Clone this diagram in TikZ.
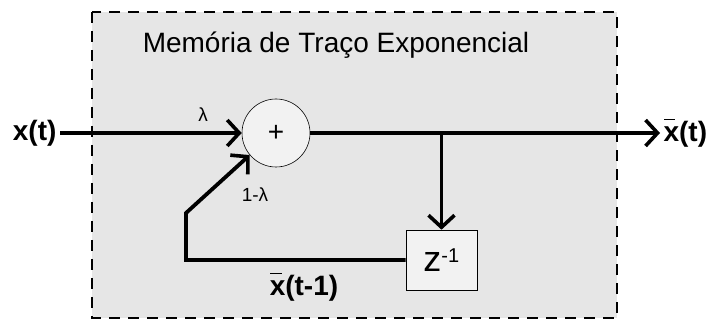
\documentclass[tikz,border=0pt]{standalone}
\usepackage{fontspec}
\setmainfont{Liberation Sans}
\usetikzlibrary{arrows.meta,positioning}
\definecolor{panelgray}{HTML}{E6E6E6}
\definecolor{blockgray}{HTML}{F2F2F2}
\newcommand{\xbar}{\rlap{\hspace{0.02em}\rule[0.78em]{0.4em}{1.3pt}}x}

\begin{document}
\begin{tikzpicture}[
  x=1pt, y=-1pt,
  sig/.style={-{Straight Barb[length=12pt,width=26pt,line width=3.6pt]}, line width=3.8pt, line join=miter},
  wire/.style={line width=3.8pt},
  panel/.style={draw=black, fill=panelgray, line width=2pt, dash pattern=on 11pt off 8pt},
  adder/.style={circle, draw=black, fill=blockgray, line width=0.6pt, minimum size=68pt, inner sep=0pt, font=\fontsize{28}{30}\selectfont},
  delay/.style={draw=black, fill=blockgray, line width=0.6pt, minimum width=71pt, minimum height=60pt, inner sep=0pt, font=\fontsize{36}{38}\selectfont},
  big/.style={font=\fontsize{28}{30}\selectfont\bfseries},
  small/.style={font=\fontsize{19}{21}\selectfont}
]
\useasboundingbox (0,0) rectangle (709,320);

\draw[panel] (92,12) rectangle (617,318);
\node[font=\fontsize{28}{32}\selectfont] (title) at (336,45) {Memória de Traço Exponencial};

\node[adder] (sum) at (276,133) {+};
\node[delay] (zinv) at (441.5,260) {z\textsuperscript{\fontsize{20}{20}\selectfont -1}};

\node[big, anchor=east] (xin) at (60,133) {x(t)};
\node[big, anchor=west] (xout) at (660,133) {\xbar(t)};
\node[small] (lam) at (203,115) {λ};
\node[small] (oneminus) at (255,195) {1-λ};
\node[big] (xprev) at (304,287) {\xbar(t-1)};

\coordinate (split) at (441.5,133);
\coordinate (corner) at (186,260);
\coordinate (knee) at (186,213);

\draw[sig] (xin) -- (sum);
\draw[wire] (sum) -- (split);
\draw[sig] (split) -- (xout);
\draw[sig] (split) -- (zinv);
\draw[sig] (zinv.west) -- (corner) -- (knee) -- (sum.220);

\end{tikzpicture}
\end{document}
